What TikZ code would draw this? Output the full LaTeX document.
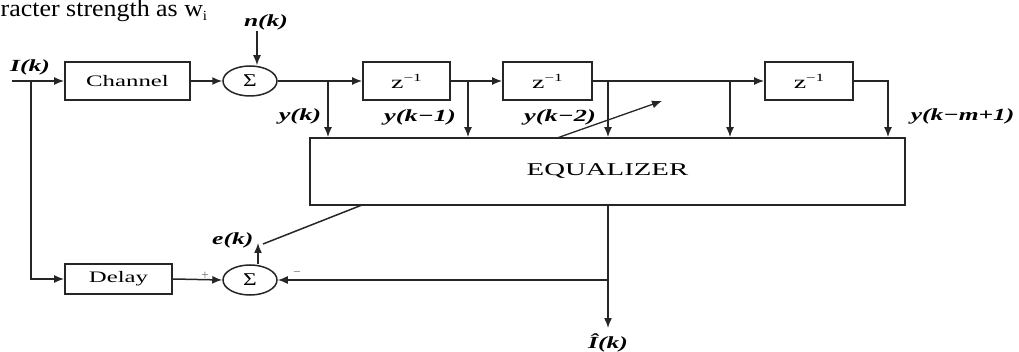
\documentclass[tikz,border=0pt]{standalone}
\usepackage{fontspec}
\setmainfont{Liberation Serif}
\usepackage{graphicx}
\usetikzlibrary{arrows.meta,shapes.geometric}
\newcommand{\hx}[2][1.55]{\scalebox{#1}[1]{#2}}
\newcommand{\zinv}{z\raisebox{7pt}{\fontsize{11}{11}\selectfont −1}}
\begin{document}
\begin{tikzpicture}[x=1pt,y=-1pt, line width=1.5pt, color=black!85,
  box/.style={draw, rectangle, line width=1.8pt, inner sep=0pt},
  sumnode/.style={draw, ellipse, minimum width=54pt, minimum height=30pt, inner sep=0pt, line width=1.5pt},
  sig/.style={-{Latex[length=10pt,width=8pt]}},
  lbl/.style={font=\fontsize{17}{17}\selectfont\bfseries\itshape, inner sep=0pt, text=black},
  txt/.style={font=\fontsize{16}{16}\selectfont, text=black}]
\useasboundingbox (0,0) rectangle (1019,352);

% page text fragment at top
\node[anchor=base west, inner sep=0pt, font=\fontsize{24}{24}\selectfont, text=black] (toptext) at (0,17)
  {\hx[1.08]{racter strength as w\raisebox{-4pt}{\fontsize{14}{14}\selectfont i}}};

% blocks
\node[box, txt, minimum width=125pt, minimum height=38pt] (chan) at (127.5,81) {\hx{Channel}};
\node[sumnode, font=\fontsize{18}{18}\selectfont, text=black] (s1) at (250,81) {\hx[1.3]{Σ}};
\node[box, txt, font=\fontsize{18}{18}\selectfont, minimum width=87pt, minimum height=38pt] (d1) at (406.5,81) {\hx{\zinv}};
\node[box, txt, font=\fontsize{18}{18}\selectfont, minimum width=89pt, minimum height=38pt] (d2) at (547.5,81) {\hx{\zinv}};
\node[box, txt, font=\fontsize{18}{18}\selectfont, minimum width=88pt, minimum height=38pt] (d3) at (809,81) {\hx{\zinv}};
\node[box, font=\fontsize{18}{18}\selectfont, text=black, minimum width=595pt, minimum height=67pt] (eq) at (607.5,171.5) {\hx[1.6]{EQUALIZER}};
\node[box, txt, minimum width=107pt, minimum height=30pt] (delay) at (118.5,279) {\hx{Delay}};
\node[sumnode, font=\fontsize{18}{18}\selectfont, text=black] (s2) at (250,280) {\hx[1.3]{Σ}};

% coordinates
\coordinate (inS) at (12,81);
\coordinate (bL) at (31,81);
\coordinate (nTop) at (257,31);
\coordinate (b0) at (328,81);
\coordinate (b1) at (468,81);
\coordinate (b2) at (608,81);
\coordinate (b3) at (730,81);
\coordinate (b4) at (888,81);
\coordinate (adjS) at (557,138);
\coordinate (adjE) at (662,101);
\coordinate (oEnd) at (608,328);
\coordinate (fb) at (608,280);
\coordinate (eTip) at (258,243);
\coordinate (diagS) at (362,205);
\coordinate (diagE) at (263,244);

% connectors
\draw[sig] (inS) -- (chan.west);
\draw[sig] (bL) |- (delay.west);
\draw[sig] (chan.east) -- (s1.west);
\draw[sig] (nTop) -- (nTop |- s1.north);
\draw[sig] (s1.east) -- (d1.west);
\draw[sig] (d1.east) -- (d2.west);
\draw[sig] (d2.east) -- (d3.west);
\draw[sig] (d3.east) -| (b4 |- eq.north);
\foreach \b in {b0,b1,b2,b3} \draw[sig] (\b) -- (\b |- eq.north);
\draw[sig, line width=1.3pt] (adjS) -- (adjE);
\draw[sig] (eq.south -| fb) -- (oEnd);
\draw[sig] (fb) -- (s2.east);
\draw[sig] (delay.east) -- (s2.west);
\draw[sig] (s2.north -| eTip) -- (eTip);
\draw (diagS) -- (diagE);

% labels
\node[lbl] (lI) at (30,67) {\hx[1.5]{I(k)}};
\node[lbl] (ln) at (266,22) {\hx[1.5]{n(k)}};
\node[lbl] (ly0) at (300,116) {\hx[1.55]{y(k)}};
\node[lbl] (ly1) at (420,117) {\hx[1.55]{y(k−1)}};
\node[lbl] (ly2) at (560,117) {\hx[1.55]{y(k−2)}};
\node[lbl, anchor=west] (lym) at (910,116) {\hx[1.5]{y(k−m+1)}};
\node[lbl, anchor=east] (le) at (254,240) {\hx[1.5]{e(k)}};
\node[lbl] (lIh) at (608,343) {\hx[1.5]{Î(k)}};
\node[font=\fontsize{13}{13}\selectfont, inner sep=0pt, text=black!60] (plus) at (205,276) {+};
\node[font=\fontsize{13}{13}\selectfont, inner sep=0pt, text=black!60] (minus) at (297,274) {−};
\end{tikzpicture}
\end{document}
